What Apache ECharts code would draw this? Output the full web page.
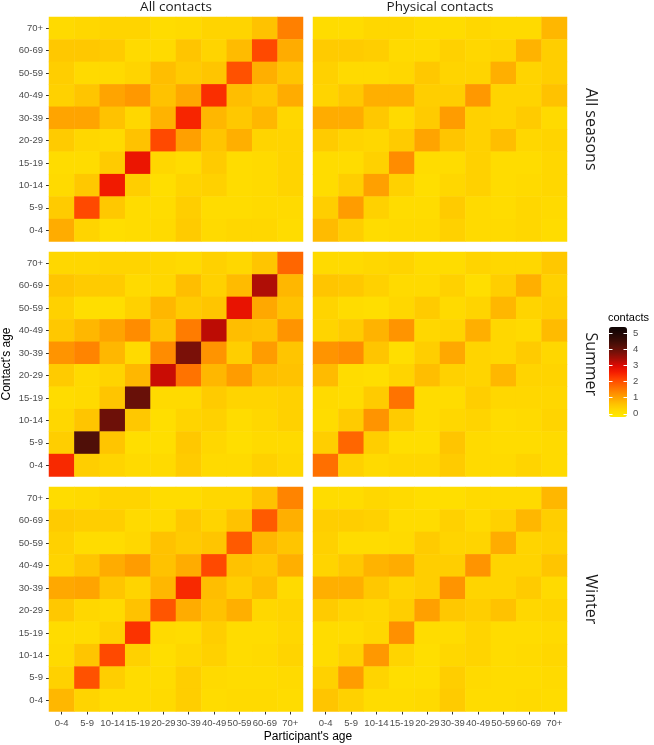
<!DOCTYPE html>
<html>
<head>
<meta charset="utf-8">
<script src="https://cdn.jsdelivr.net/npm/echarts@6/dist/echarts.min.js"></script>
<style>
html,body{margin:0;padding:0;background:#fff;}
#chart{width:654px;height:745px;}
</style>
</head>
<body>
<div id="chart"></div>
<script>
// Age groups (x: participant's age, y: contact's age)
const ages = ['0-4','5-9','10-14','15-19','20-29','30-39','40-49','50-59','60-69','70+'];
const columnTitles = ['All contacts', 'Physical contacts'];
const rowTitles = ['All seasons', 'Summer', 'Winter'];
const legendTicks = [0, 1, 2, 3, 4, 5];

// Each matrix: rows listed from contact age 70+ (top) down to 0-4 (bottom),
// columns = participant age 0-4 ... 70+
const allContactsAllSeasons = [
  [0.2,0.25,0.3,0.3,0.15,0.2,0.3,0.3,0.6,1.45],
  [0.5,0.5,0.45,0.2,0.2,0.55,0.3,0.7,2.1,0.9],
  [0.4,0.2,0.2,0.3,0.65,0.45,0.55,2.0,0.85,0.55],
  [0.35,0.55,1.0,1.15,0.6,0.95,2.4,0.65,0.5,0.9],
  [1.0,1.0,0.6,0.25,0.8,2.5,0.75,0.5,0.75,0.25],
  [0.45,0.25,0.2,0.6,2.1,1.05,0.55,0.85,0.3,0.3],
  [0.15,0.15,0.45,2.75,0.25,0.15,0.45,0.15,0.2,0.3],
  [0.2,0.5,2.65,0.4,0.1,0.3,0.35,0.15,0.2,0.3],
  [0.45,2.1,0.5,0.15,0.15,0.4,0.15,0.15,0.2,0.2],
  [0.9,0.3,0.1,0.15,0.2,0.45,0.2,0.25,0.25,0.15]
];
const physicalAllSeasons = [
  [0.15,0.15,0.25,0.25,0.15,0.15,0.25,0.2,0.2,0.75],
  [0.45,0.45,0.4,0.2,0.2,0.35,0.25,0.3,0.8,0.4],
  [0.35,0.2,0.2,0.25,0.5,0.3,0.3,0.85,0.3,0.4],
  [0.3,0.5,0.85,0.85,0.4,0.4,1.15,0.3,0.3,0.6],
  [0.9,0.9,0.5,0.2,0.45,1.1,0.35,0.3,0.45,0.2],
  [0.45,0.3,0.25,0.45,1.0,0.55,0.35,0.65,0.25,0.3],
  [0.15,0.15,0.35,1.3,0.15,0.15,0.35,0.15,0.15,0.25],
  [0.15,0.4,1.05,0.35,0.1,0.25,0.35,0.15,0.2,0.25],
  [0.4,1.1,0.35,0.15,0.15,0.45,0.2,0.15,0.25,0.2],
  [0.7,0.4,0.15,0.2,0.2,0.35,0.2,0.2,0.25,0.15]
];
const allContactsSummer = [
  [0.25,0.25,0.3,0.3,0.25,0.2,0.35,0.25,0.55,1.75],
  [0.55,0.45,0.45,0.2,0.25,0.65,0.35,0.7,3.35,0.75],
  [0.35,0.1,0.1,0.35,0.75,0.45,0.55,2.8,0.95,0.6],
  [0.5,0.75,1.0,1.3,0.6,1.5,3.25,0.65,0.6,1.2],
  [1.2,1.4,0.75,0.2,1.3,3.8,1.2,0.4,1.1,0.55],
  [0.45,0.2,0.3,0.75,3.15,1.6,0.75,1.1,0.65,0.6],
  [0.15,0.2,0.55,4.0,0.2,0.2,0.45,0.3,0.3,0.35],
  [0.25,0.55,3.95,0.5,0.1,0.3,0.35,0.15,0.25,0.35],
  [0.4,4.3,0.55,0.1,0.1,0.5,0.25,0.1,0.2,0.2],
  [2.45,0.4,0.3,0.2,0.2,0.45,0.2,0.2,0.35,0.25]
];
const physicalSummer = [
  [0.2,0.2,0.25,0.3,0.15,0.15,0.3,0.25,0.25,0.5],
  [0.55,0.5,0.35,0.2,0.2,0.35,0.1,0.4,0.85,0.35],
  [0.3,0.15,0.1,0.25,0.45,0.2,0.3,0.75,0.3,0.4],
  [0.3,0.45,0.8,1.2,0.25,0.3,0.85,0.25,0.2,0.7],
  [1.2,1.3,0.55,0.1,0.4,0.95,0.3,0.25,0.45,0.25],
  [0.7,0.15,0.1,0.3,0.65,0.35,0.3,0.75,0.3,0.3],
  [0.2,0.15,0.45,1.6,0.15,0.15,0.4,0.25,0.25,0.25],
  [0.15,0.45,1.2,0.45,0.15,0.25,0.3,0.15,0.2,0.3],
  [0.4,1.75,0.4,0.1,0.1,0.55,0.2,0.15,0.15,0.2],
  [1.65,0.35,0.2,0.25,0.25,0.45,0.2,0.2,0.3,0.2]
];
const allContactsWinter = [
  [0.15,0.2,0.3,0.3,0.15,0.15,0.25,0.25,0.6,1.4],
  [0.45,0.4,0.4,0.2,0.2,0.5,0.3,0.6,1.9,0.85],
  [0.35,0.15,0.15,0.25,0.6,0.45,0.55,1.9,0.75,0.55],
  [0.3,0.55,0.9,1.1,0.6,0.9,2.1,0.6,0.5,0.85],
  [0.95,1.0,0.55,0.3,0.75,2.45,0.65,0.4,0.65,0.2],
  [0.5,0.25,0.2,0.6,1.95,0.9,0.6,0.85,0.25,0.3],
  [0.15,0.15,0.35,2.35,0.2,0.15,0.4,0.15,0.15,0.25],
  [0.2,0.55,2.1,0.35,0.1,0.25,0.35,0.15,0.2,0.3],
  [0.35,2.0,0.4,0.15,0.15,0.4,0.2,0.15,0.15,0.2],
  [0.75,0.3,0.15,0.15,0.2,0.4,0.15,0.2,0.2,0.15]
];
const physicalWinter = [
  [0.15,0.15,0.25,0.2,0.1,0.1,0.2,0.2,0.2,0.75],
  [0.4,0.4,0.35,0.15,0.15,0.35,0.2,0.35,0.75,0.4],
  [0.35,0.15,0.15,0.2,0.45,0.3,0.3,0.9,0.3,0.35],
  [0.3,0.5,0.8,0.9,0.4,0.4,1.2,0.3,0.3,0.55],
  [0.85,0.85,0.5,0.3,0.4,1.2,0.3,0.3,0.45,0.2],
  [0.45,0.3,0.25,0.4,1.05,0.5,0.4,0.6,0.25,0.3],
  [0.15,0.15,0.25,1.25,0.15,0.15,0.3,0.15,0.15,0.2],
  [0.15,0.35,1.15,0.3,0.1,0.25,0.3,0.15,0.2,0.25],
  [0.35,1.1,0.3,0.1,0.1,0.4,0.2,0.15,0.15,0.2],
  [0.55,0.35,0.15,0.15,0.2,0.45,0.15,0.15,0.2,0.15]
];

// panel order: row-major (season rows, contact-type columns)
const panels = [
  allContactsAllSeasons, physicalAllSeasons,
  allContactsSummer, physicalSummer,
  allContactsWinter, physicalWinter
];

function toCells(m) {
  const out = [];
  m.forEach((row, r) => row.forEach((v, c) => out.push([c, ages.length - 1 - r, v])));
  return out;
}

// layout
const colLeft = [49, 313];
const colWidth = 254;
const rowTop = [17, 252, 487];
const rowHeight = 224.5;
const tickFont = '"Liberation Sans", Arial, sans-serif';
const stripFont = '"Open Sans", "Noto Sans", sans-serif';

const grids = [], xAxes = [], yAxes = [], series = [];
panels.forEach((m, i) => {
  const r = Math.floor(i / 2), c = i % 2;
  grids.push({left: colLeft[c], top: rowTop[r], width: colWidth, height: rowHeight});
  const bottomRow = r === 2, leftCol = c === 0;
  xAxes.push({
    type: 'category', data: ages, gridIndex: i,
    axisLine: {show: false},
    axisTick: {show: bottomRow, alignWithLabel: true, length: 3, lineStyle: {color: '#333'}},
    axisLabel: {show: bottomRow, interval: 0, hideOverlap: false, fontSize: 9.5, color: '#4D4D4D', fontFamily: tickFont, margin: 7},
    splitLine: {show: false}
  });
  yAxes.push({
    type: 'category', data: ages, gridIndex: i,
    axisLine: {show: false},
    axisTick: {show: leftCol, alignWithLabel: true, length: 3, lineStyle: {color: '#333'}},
    axisLabel: {show: leftCol, interval: 0, hideOverlap: false, fontSize: 9.5, color: '#4D4D4D', fontFamily: tickFont, margin: 6},
    splitLine: {show: false}
  });
  series.push({
    type: 'heatmap', xAxisIndex: i, yAxisIndex: i,
    data: toCells(m), emphasis: {disabled: true}, itemStyle: {borderWidth: 0}, progressive: 0
  });
});

// colour bar tick axes (grid 6)
grids.push({left: 609, top: 333.4, width: 18, height: 80.4});
xAxes.push({type: 'value', gridIndex: 6, show: false, min: 0, max: 1});
yAxes.push({
  type: 'value', gridIndex: 6, position: 'left', min: legendTicks[0], max: legendTicks[legendTicks.length-1], interval: 1, z: 10,
  axisLine: {show: false}, splitLine: {show: false}, axisLabel: {show: false},
  axisTick: {show: true, inside: true, length: 3.5, lineStyle: {color: '#fff', width: 1}}
});
yAxes.push({
  type: 'value', gridIndex: 6, position: 'right', min: legendTicks[0], max: legendTicks[legendTicks.length-1], interval: 1, z: 10,
  axisLine: {show: false}, splitLine: {show: false},
  axisLabel: {show: true, fontSize: 9.5, color: '#4D4D4D', fontFamily: tickFont, margin: 6},
  axisTick: {show: true, inside: true, length: 3.5, lineStyle: {color: '#fff', width: 1}}
});

const graphic = [];
columnTitles.forEach((t, c) => graphic.push({
  type: 'text', x: colLeft[c] + colWidth / 2, y: 7,
  style: {text: t, fill: '#1A1A1A', font: '13.5px ' + stripFont, textAlign: 'center', textVerticalAlign: 'middle'}
}));
rowTitles.forEach((t, r) => graphic.push({
  type: 'text', x: 591, y: rowTop[r] + rowHeight / 2, rotation: -Math.PI / 2,
  style: {text: t, fill: '#1A1A1A', font: '16px ' + stripFont, textAlign: 'center', textVerticalAlign: 'middle'}
}));
graphic.push({
  type: 'text', x: 7, y: 364, rotation: Math.PI / 2,
  style: {text: "Contact's age", fill: '#000', font: '12px ' + tickFont, textAlign: 'center', textVerticalAlign: 'middle'}
});
graphic.push({
  type: 'text', x: 308, y: 737,
  style: {text: "Participant's age", fill: '#000', font: '12px ' + tickFont, textAlign: 'center', textVerticalAlign: 'middle'}
});
graphic.push({
  type: 'text', x: 608, y: 318,
  style: {text: 'contacts', fill: '#000', font: '11px ' + tickFont, textAlign: 'left', textVerticalAlign: 'middle'}
});

const chart = echarts.init(document.getElementById('chart'), null, {renderer: 'canvas'});
chart.setOption({
  animation: false,
  backgroundColor: '#fff',
  grid: grids,
  xAxis: xAxes,
  yAxis: yAxes,
  visualMap: {
    type: 'continuous', min: -0.2, max: 5.4, seriesIndex: [0,1,2,3,4,5],
    orient: 'vertical', left: 609, top: 327, itemWidth: 18, itemHeight: 90, padding: 0,
    calculable: false, hoverLink: false, realtime: false,
    inRange: {color: ['#FFEA00','#FFDA00','#FFC200','#FFA400','#FF8400','#FF6200','#FF4000','#F41C00','#DC0A02','#A80E06','#7A1008','#561008','#380C06','#200806','#0E0404']}
  },
  graphic: graphic,
  series: series
});
</script>
</body>
</html>
